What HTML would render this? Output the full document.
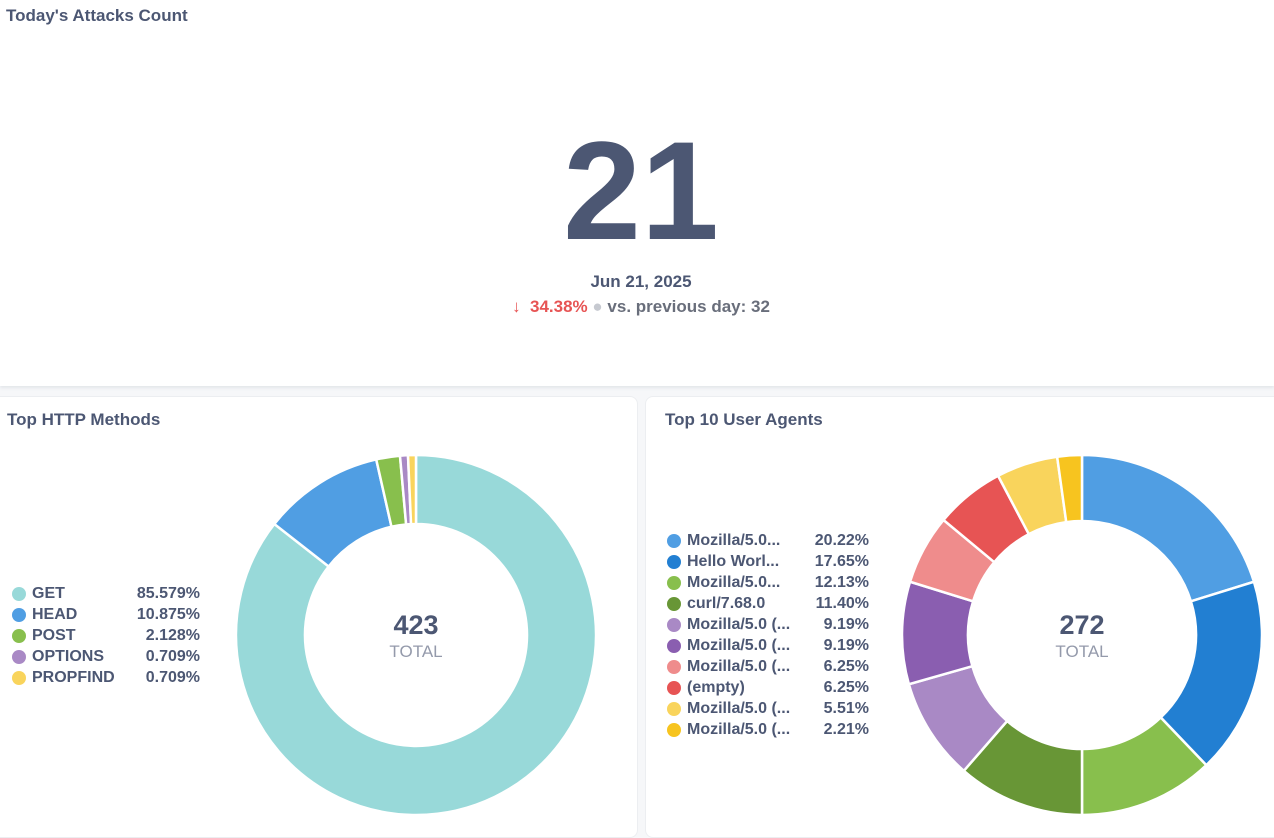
<!DOCTYPE html>
<html><head><meta charset="utf-8">
<style>
body{margin:0;width:1274px;height:827px;background:#f6f7f9;font-family:"Liberation Sans",sans-serif;color:#4c5773;overflow:hidden;position:relative}
.card{position:absolute;background:#fff}
.title{position:absolute;font-size:17px;font-weight:bold;color:#4c5773}
.leg{position:absolute;font-size:16px;font-weight:bold;color:#4c5773}
.row{display:flex;align-items:center;height:21px}
.dot{width:14px;height:14px;border-radius:50%;margin-right:6px}
.val{margin-left:auto;text-align:right}
</style></head><body>
<div class="card" style="left:0;top:0;width:1274px;height:386px;box-shadow:0 2px 3px #e3e6ea">
 <div class="title" style="left:6px;top:6px">Today's Attacks Count</div>
 <div style="position:absolute;left:0;width:1282px;top:121px;text-align:center;font-size:140px;font-weight:bold;color:#4c5773;line-height:140px">21</div>
 <div style="position:absolute;left:0;width:1282px;top:272px;text-align:center;font-size:17px;font-weight:bold">Jun 21, 2025</div>
 <div style="position:absolute;left:0;width:1282px;top:297px;text-align:center;font-size:17px;font-weight:bold;color:#696e7b"><span style="color:#e75454">↓&nbsp;&nbsp;34.38%</span> <span style="color:#c6c9d0">●</span> vs. previous day: 32</div>
</div>
<div class="card" style="left:-8px;top:396px;width:644px;height:440px;border:1px solid #eceef1;border-radius:8px">
 <div class="title" style="left:14px;top:13px">Top HTTP Methods</div>
</div>
<div class="card" style="left:645px;top:396px;width:640px;height:440px;border:1px solid #eceef1;border-radius:8px">
 <div class="title" style="left:19px;top:13px">Top 10 User Agents</div>
</div>
<div class="leg" id="leg1" style="left:12px;top:583px;width:188px"></div>
<div class="leg" id="leg2" style="left:667px;top:530px;width:202px"></div>
<svg id="svg" width="1274" height="827" style="position:absolute;left:0;top:0"></svg>
<script>
const methodLabels=["GET","HEAD","POST","OPTIONS","PROPFIND"];
const methodValues=[362,46,9,3,3];
const methodPct=["85.579%","10.875%","2.128%","0.709%","0.709%"];
const methodColors=["#98d9d9","#509ee3","#88bf4d","#a989c5","#f9d45c"];
const agentLabels=["Mozilla/5.0...","Hello Worl...","Mozilla/5.0...","curl/7.68.0","Mozilla/5.0 (...","Mozilla/5.0 (...","Mozilla/5.0 (...","(empty)","Mozilla/5.0 (...","Mozilla/5.0 (..."];
const agentValues=[55,48,33,31,25,25,17,17,15,6];
const agentPct=["20.22%","17.65%","12.13%","11.40%","9.19%","9.19%","6.25%","6.25%","5.51%","2.21%"];
const agentColors=["#509ee3","#227fd2","#88bf4d","#689636","#a989c5","#8a5eb0","#ef8c8c","#e75454","#f9d45c","#f7c41f"];
const NS="http://www.w3.org/2000/svg";
const svg=document.getElementById('svg');
function donut(cx,cy,R,r,vals,cols,name,labels){
 const tot=vals.reduce((a,b)=>a+b,0);let a0=0;
 vals.forEach((v,i)=>{
  const a1=a0+v/tot*2*Math.PI;
  const p=(rad,a)=>[cx+rad*Math.sin(a),cy-rad*Math.cos(a)];
  const lg=(a1-a0)>Math.PI?1:0;
  const [x0,y0]=p(R,a0),[x1,y1]=p(R,a1),[x2,y2]=p(r,a1),[x3,y3]=p(r,a0);
  const path=document.createElementNS(NS,'path');
  path.setAttribute('d',`M${x0},${y0}A${R},${R} 0 ${lg} 1 ${x1},${y1}L${x2},${y2}A${r},${r} 0 ${lg} 0 ${x3},${y3}Z`);
  path.setAttribute('fill',cols[i]);path.setAttribute('stroke','#fff');path.setAttribute('stroke-width','2.5');
  
  
  svg.appendChild(path);a0=a1;
 });
 const t=document.createElementNS(NS,'text');
 t.setAttribute('x',cx);t.setAttribute('y',cy-1);t.setAttribute('text-anchor','middle');
 t.setAttribute('font-size','27');t.setAttribute('font-weight','bold');t.setAttribute('fill','#4c5773');
 t.setAttribute('font-family','Liberation Sans, sans-serif');t.textContent=tot;
 
 
 svg.appendChild(t);
 const t2=document.createElementNS(NS,'text');
 t2.setAttribute('x',cx);t2.setAttribute('y',cy+22);t2.setAttribute('text-anchor','middle');
 t2.setAttribute('font-size','17');t2.setAttribute('fill','#949aab');
 t2.setAttribute('font-family','Liberation Sans, sans-serif');t2.textContent='TOTAL';
 
 
 svg.appendChild(t2);
}
function legend(id,labels,pcts,cols,name){
 const el=document.getElementById(id);
 
 
 labels.forEach((l,i)=>{
  const row=document.createElement('div');row.className='row';
  
  
  row.innerHTML=`<span class="dot" style="background:${cols[i]}"></span><span>${l}</span><span class="val">${pcts[i]}</span>`;
  el.appendChild(row);
 });
}
donut(416,635,180,111,methodValues,methodColors,'methods',methodLabels);
donut(1082,635,180,114,agentValues,agentColors,'agents',agentLabels);
legend('leg1',methodLabels,methodPct,methodColors,'methods');
legend('leg2',agentLabels,agentPct,agentColors,'agents');
</script>
</body></html>
